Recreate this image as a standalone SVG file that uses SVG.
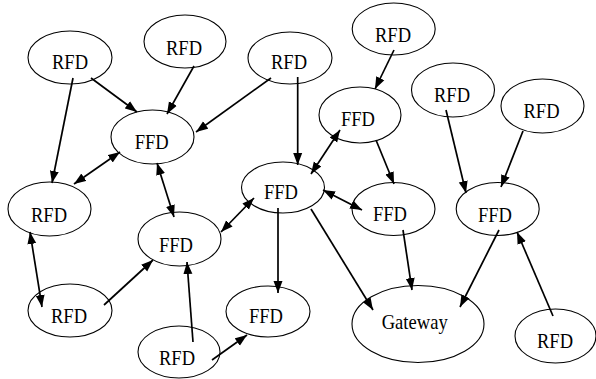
<svg xmlns="http://www.w3.org/2000/svg" width="596" height="379" viewBox="0 0 596 379">
  <style>
    .node ellipse { fill: #ffffff; stroke: #000000; stroke-width: 1.1; }
    .node text { font-family: "Liberation Serif", "Times New Roman", serif; font-size: 21px; fill: #000000; text-anchor: middle; }
    .edge line { stroke: #000000; stroke-width: 1.7; fill: none; }
  </style>
  <defs>
    <marker id="arrow" markerUnits="userSpaceOnUse" markerWidth="13" markerHeight="10" refX="12" refY="5" orient="auto-start-reverse">
      <path d="M0,0.5 L12,5 L0,9.5 z" fill="#000000"/>
    </marker>
  </defs>

  <!-- nodes -->
  <g id="rfd1" class="node"><ellipse cx="70" cy="57.5" rx="42" ry="26.5"/><text x="70" y="69" textLength="36" lengthAdjust="spacingAndGlyphs">RFD</text></g>
  <g id="rfd2" class="node"><ellipse cx="185" cy="41.5" rx="41" ry="26.5"/><text x="184" y="55" textLength="36" lengthAdjust="spacingAndGlyphs">RFD</text></g>
  <g id="rfd3" class="node"><ellipse cx="290" cy="58" rx="42" ry="26"/><text x="289" y="69" textLength="36" lengthAdjust="spacingAndGlyphs">RFD</text></g>
  <g id="rfd4" class="node"><ellipse cx="393.7" cy="29" rx="41.5" ry="26"/><text x="393" y="41.5" textLength="36" lengthAdjust="spacingAndGlyphs">RFD</text></g>
  <g id="rfd5" class="node"><ellipse cx="453" cy="90" rx="41.5" ry="27"/><text x="452" y="102" textLength="36" lengthAdjust="spacingAndGlyphs">RFD</text></g>
  <g id="rfd6" class="node"><ellipse cx="542.5" cy="106" rx="41.5" ry="27"/><text x="541.5" y="118" textLength="36" lengthAdjust="spacingAndGlyphs">RFD</text></g>
  <g id="ffd1" class="node"><ellipse cx="152.5" cy="137" rx="41.5" ry="27"/><text x="151.7" y="149" textLength="34" lengthAdjust="spacingAndGlyphs">FFD</text></g>
  <g id="ffd2" class="node"><ellipse cx="360" cy="115" rx="41" ry="28"/><text x="358" y="126" textLength="34" lengthAdjust="spacingAndGlyphs">FFD</text></g>
  <g id="ffd3" class="node"><ellipse cx="283" cy="187.5" rx="41.5" ry="25.5"/><text x="281" y="199" textLength="34" lengthAdjust="spacingAndGlyphs">FFD</text></g>
  <g id="rfd7" class="node"><ellipse cx="49.5" cy="209" rx="41.5" ry="27"/><text x="49" y="221.5" textLength="36" lengthAdjust="spacingAndGlyphs">RFD</text></g>
  <g id="ffd4" class="node"><ellipse cx="179.5" cy="239" rx="41.5" ry="27"/><text x="176" y="251.5" textLength="34" lengthAdjust="spacingAndGlyphs">FFD</text></g>
  <g id="ffd5" class="node"><ellipse cx="393.5" cy="209" rx="41.5" ry="26.5"/><text x="390" y="221" textLength="34" lengthAdjust="spacingAndGlyphs">FFD</text></g>
  <g id="ffd6" class="node"><ellipse cx="497.7" cy="209" rx="41.5" ry="26.5"/><text x="495" y="221.5" textLength="34" lengthAdjust="spacingAndGlyphs">FFD</text></g>
  <g id="rfd8" class="node"><ellipse cx="70" cy="310.5" rx="42" ry="26.5"/><text x="69" y="323" textLength="36" lengthAdjust="spacingAndGlyphs">RFD</text></g>
  <g id="ffd7" class="node"><ellipse cx="268" cy="311.5" rx="42" ry="25.5"/><text x="266" y="323" textLength="34" lengthAdjust="spacingAndGlyphs">FFD</text></g>
  <g id="gateway" class="node"><ellipse cx="418" cy="324" rx="66" ry="38.5"/><text x="414.7" y="329" textLength="66" lengthAdjust="spacingAndGlyphs">Gateway</text></g>
  <g id="rfd9" class="node"><ellipse cx="179" cy="352" rx="41" ry="26"/><text x="177" y="365" textLength="36" lengthAdjust="spacingAndGlyphs">RFD</text></g>
  <g id="rfd10" class="node"><ellipse cx="555.5" cy="336" rx="40.5" ry="27"/><text x="555" y="348" textLength="36" lengthAdjust="spacingAndGlyphs">RFD</text></g>

  <!-- connectors, drawn over the nodes -->
  <g id="edges" class="edge">
    <line x1="91" y1="78" x2="137" y2="112" marker-end="url(#arrow)"/>
    <line x1="73" y1="78" x2="52" y2="183" marker-end="url(#arrow)"/>
    <line x1="194" y1="66" x2="167" y2="114" marker-end="url(#arrow)"/>
    <line x1="120" y1="152" x2="74" y2="184" marker-start="url(#arrow)" marker-end="url(#arrow)"/>
    <line x1="271" y1="78" x2="196" y2="132" marker-end="url(#arrow)"/>
    <line x1="297.7" y1="77" x2="297.7" y2="165" marker-end="url(#arrow)"/>
    <line x1="394" y1="50" x2="375" y2="89" marker-end="url(#arrow)"/>
    <line x1="340" y1="130" x2="311" y2="174" marker-start="url(#arrow)" marker-end="url(#arrow)"/>
    <line x1="376" y1="140" x2="394" y2="184" marker-end="url(#arrow)"/>
    <line x1="446" y1="110" x2="466" y2="193" marker-end="url(#arrow)"/>
    <line x1="523" y1="131" x2="501" y2="187" marker-end="url(#arrow)"/>
    <line x1="157" y1="163" x2="174" y2="217" marker-start="url(#arrow)" marker-end="url(#arrow)"/>
    <line x1="30" y1="232" x2="42" y2="307" marker-start="url(#arrow)" marker-end="url(#arrow)"/>
    <line x1="104" y1="305" x2="153" y2="260" marker-end="url(#arrow)"/>
    <line x1="193" y1="342" x2="187" y2="262" marker-end="url(#arrow)"/>
    <line x1="254" y1="198" x2="221" y2="232" marker-start="url(#arrow)" marker-end="url(#arrow)"/>
    <line x1="278" y1="208" x2="278" y2="293" marker-end="url(#arrow)"/>
    <line x1="311" y1="209" x2="373" y2="310" marker-end="url(#arrow)"/>
    <line x1="323" y1="190" x2="362" y2="210" marker-start="url(#arrow)" marker-end="url(#arrow)"/>
    <line x1="212" y1="360" x2="247" y2="335" marker-end="url(#arrow)"/>
    <line x1="403" y1="230" x2="412" y2="290" marker-end="url(#arrow)"/>
    <line x1="499" y1="230" x2="460" y2="307" marker-end="url(#arrow)"/>
    <line x1="553" y1="316" x2="517" y2="232" marker-end="url(#arrow)"/>
  </g>
</svg>
